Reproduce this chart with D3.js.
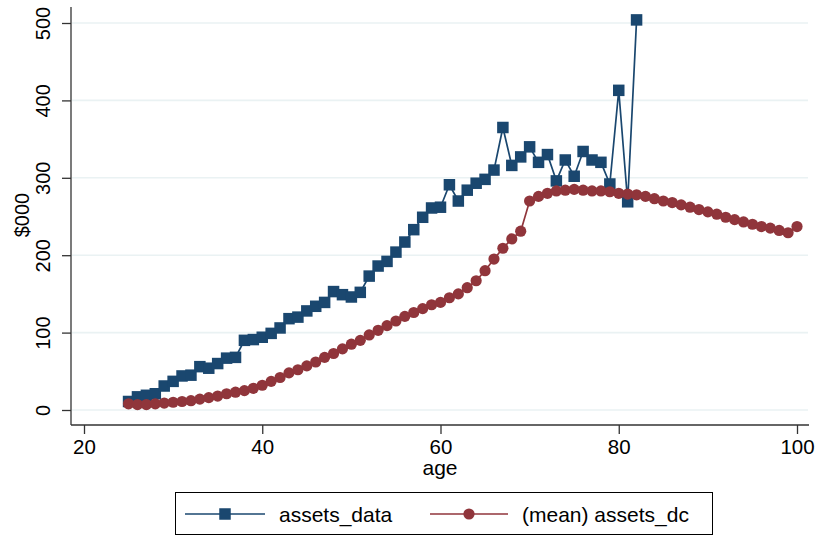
<!DOCTYPE html>
<html><head><meta charset="utf-8">
<script src="https://cdn.jsdelivr.net/npm/d3@7/dist/d3.min.js"></script>
<style>
body{margin:0;background:#fff}
svg{display:block;font-family:"Liberation Sans",Arial,Helvetica,sans-serif}
</style>
</head><body>
<svg id="c" width="817" height="536"></svg>
<script>
// ---- data ----
const agesData = [25,26,27,28,29,30,31,32,33,34,35,36,37,38,39,40,41,42,43,44,45,46,47,48,49,50,51,52,53,54,55,56,57,58,59,60,61,62,63,64,65,66,67,68,69,70,71,72,73,74,75,76,77,78,79,80,81,82];
const assetsData = [11,17,19,21,31,37,44,45,56,54,60,67,68,90,91,94,99,106,118,120,128,134,139,153,149,146,152,173,186,192,204,217,233,249,261,262,291,270,284,293,298,310,365,316,327,340,320,330,296,323,302,334,323,320,292,413,269,504];
const agesDc = [25,26,27,28,29,30,31,32,33,34,35,36,37,38,39,40,41,42,43,44,45,46,47,48,49,50,51,52,53,54,55,56,57,58,59,60,61,62,63,64,65,66,67,68,69,70,71,72,73,74,75,76,77,78,79,80,81,82,83,84,85,86,87,88,89,90,91,92,93,94,95,96,97,98,99,100];
const assetsDc = [8,7,7,8,9,10,11,12,14,16,18,21,23,25,28,32,37,42,48,52,57,62,68,73,79,85,90,97,103,109,115,121,126,131,136,139,145,150,158,167,180,195,209,221,231,270,276,280,283,284,285,284,283,283,282,280,279,278,276,273,270,268,265,262,259,256,253,249,246,243,240,237,235,232,229,237];
const xTicks = [20,40,60,80,100];
const yTicks = [0,100,200,300,400,500];
const seriesNames = ["assets_data","(mean) assets_dc"];
const colors = ["#1a476f","#90353b"];

// ---- chart ----
const svg = d3.select("#c");
const x = d3.scaleLinear().domain([20,100]).range([84,797]);
const y = d3.scaleLinear().domain([0,500]).range([410,23]);
const axisColor = "#333";

// gridlines
svg.append("g").selectAll("line").data(yTicks).join("line")
  .attr("x1",72).attr("x2",808)
  .attr("y1",d=>y(d)).attr("y2",d=>y(d))
  .attr("stroke","#eaf2f3").attr("stroke-width",1.6);

// y axis
const ya = svg.append("g").attr("transform","translate(71,0)")
  .call(d3.axisLeft(y).tickValues(yTicks).tickSize(9).tickFormat(d3.format("d")));
ya.select(".domain").remove();
ya.selectAll(".tick line").attr("stroke",axisColor).attr("stroke-width",1.3);
ya.selectAll(".tick text")
  .attr("x",null).attr("dy",null).attr("y",null)
  .attr("transform","translate(-21,0) rotate(-90)")
  .attr("text-anchor","middle")
  .attr("fill","#000").style("font-size","20px").style("font-family","inherit");
svg.append("line").attr("x1",71).attr("x2",71).attr("y1",7).attr("y2",425)
  .attr("stroke",axisColor).attr("stroke-width",1.3);

// x axis
const xa = svg.append("g").attr("transform","translate(0,425)")
  .call(d3.axisBottom(x).tickValues(xTicks).tickSize(9).tickPadding(5).tickFormat(d3.format("d")));
xa.select(".domain").remove();
xa.selectAll(".tick line").attr("stroke",axisColor).attr("stroke-width",1.3);
xa.selectAll(".tick text").attr("fill","#000").style("font-size","20.5px").style("font-family","inherit");
svg.append("line").attr("x1",71).attr("x2",809).attr("y1",425).attr("y2",425)
  .attr("stroke",axisColor).attr("stroke-width",1.3);

// axis titles
svg.append("text").attr("x",440).attr("y",475).attr("text-anchor","middle")
  .style("font-size","21px").text("age");
svg.append("text").attr("transform","translate(29,215) rotate(-90)").attr("text-anchor","middle")
  .style("font-size","20px").text("$000");

// series
const line = d3.line().x(d=>x(d[0])).y(d=>y(d[1]));
const s1 = agesData.map((a,i)=>[a,assetsData[i]]);
const s2 = agesDc.map((a,i)=>[a,assetsDc[i]]);
const sq = 11.5, cr = 5.6;

svg.append("path").datum(s1).attr("d",line).attr("fill","none")
  .attr("stroke",colors[0]).attr("stroke-width",1.7);
svg.append("g").selectAll("rect").data(s1).join("rect")
  .attr("x",d=>x(d[0])-sq/2).attr("y",d=>y(d[1])-sq/2)
  .attr("width",sq).attr("height",sq).attr("fill",colors[0]);

svg.append("path").datum(s2).attr("d",line).attr("fill","none")
  .attr("stroke",colors[1]).attr("stroke-width",1.7);
svg.append("g").selectAll("circle").data(s2).join("circle")
  .attr("cx",d=>x(d[0])).attr("cy",d=>y(d[1])).attr("r",cr).attr("fill",colors[1]);

// legend
const lg = svg.append("g");
lg.append("rect").attr("x",175.5).attr("y",492.5).attr("width",537).attr("height",42)
  .attr("fill","#fff").attr("stroke","#000").attr("stroke-width",1);
const items = [
  {x1:185,x2:265,tx:279},
  {x1:430,x2:508,tx:522}
];
items.forEach((it,i)=>{
  const cy = 514;
  lg.append("line").attr("x1",it.x1).attr("x2",it.x2).attr("y1",cy).attr("y2",cy)
    .attr("stroke",colors[i]).attr("stroke-width",1.7);
  const mx = (it.x1+it.x2)/2;
  if(i===0) lg.append("rect").attr("x",mx-sq/2).attr("y",cy-sq/2).attr("width",sq).attr("height",sq).attr("fill",colors[i]);
  else lg.append("circle").attr("cx",mx).attr("cy",cy).attr("r",cr).attr("fill",colors[i]);
  lg.append("text").attr("x",it.tx).attr("y",cy+7.5).style("font-size","21px").text(seriesNames[i]);
});
</script>
</body></html>
